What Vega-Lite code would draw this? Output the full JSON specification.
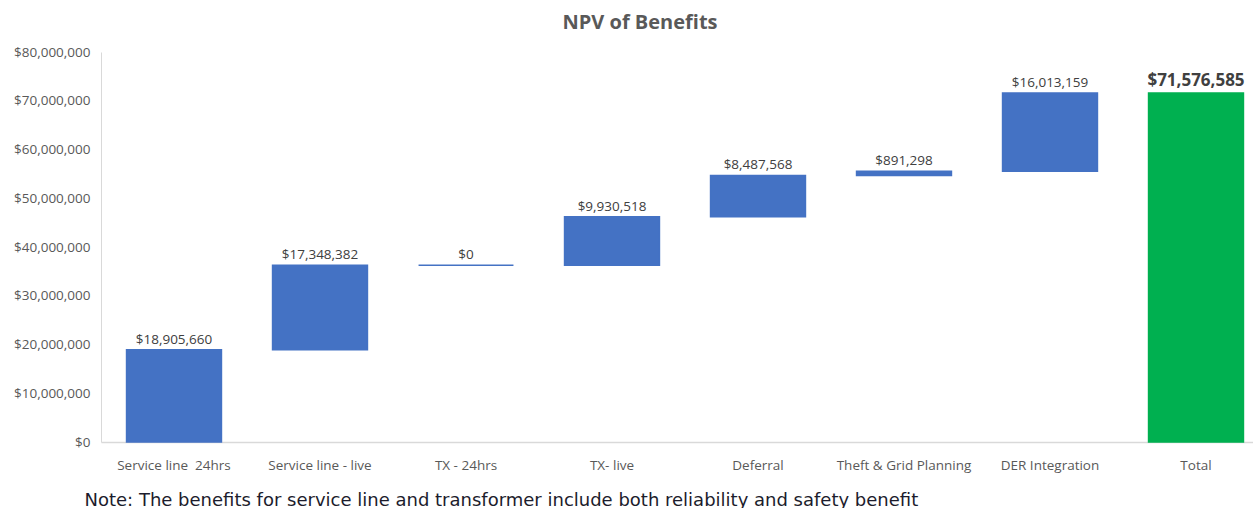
{
  "$schema": "https://vega.github.io/schema/vega-lite/v6.json",
  "width": 1168,
  "height": 390,
  "autosize": {"type": "none"},
  "padding": {"left": 101, "top": 52, "right": 0, "bottom": 66},
  "background": "white",
  "config": {"font": "Open Sans", "view": {"stroke": null}},
  "title": {
    "text": "NPV of Benefits",
    "anchor": "middle",
    "frame": "group",
    "dx": -45,
    "offset": 12,
    "fontSize": 20,
    "fontWeight": "bold",
    "color": "#595959"
  },
  "data": {
    "values": [
      {"category": "Service line \u00a024hrs", "start": 0, "end": 18905660, "value": 18905660, "kind": "step"},
      {"category": "Service line - live", "start": 18905660, "end": 36254042, "value": 17348382, "kind": "step"},
      {"category": "TX - 24hrs", "start": 36254042, "end": 36254042, "value": 0, "kind": "step"},
      {"category": "TX- live", "start": 36254042, "end": 46184560, "value": 9930518, "kind": "step"},
      {"category": "Deferral", "start": 46184560, "end": 54672128, "value": 8487568, "kind": "step"},
      {"category": "Theft & Grid Planning", "start": 54672128, "end": 55563426, "value": 891298, "kind": "step"},
      {"category": "DER Integration", "start": 55563426, "end": 71576585, "value": 16013159, "kind": "step"},
      {"category": "Total", "start": 0, "end": 71576585, "value": 71576585, "kind": "total"}
    ]
  },
  "encoding": {
    "x": {
      "field": "category",
      "type": "nominal",
      "sort": null,
      "scale": {"paddingInner": 0.35, "paddingOuter": 0.175},
      "axis": {
        "title": "Note: The benefits for service line and transformer include both reliability and safety benefit",
        "titleFont": "DejaVu Sans",
        "titleFontSize": 18,
        "titleFontWeight": "normal",
        "titleColor": "#1c1c2c",
        "titleAnchor": "start",
        "titleAlign": "left",
        "titleX": -17,
        "titleY": 58,
        "titleBaseline": "middle",
        "titleLimit": 1200,
        "labelAngle": 0,
        "labelFontSize": 13.5,
        "labelColor": "#595959",
        "labelPadding": 23,
        "labelBaseline": "middle",
        "labelLimit": 300,
        "labelOverlap": false,
        "ticks": false,
        "domainColor": "#d9d9d9",
        "domainWidth": 1.5
      }
    }
  },
  "layer": [
    {
      "mark": {"type": "bar", "strokeWidth": 1.5},
      "encoding": {
        "y": {
          "field": "start",
          "type": "quantitative",
          "scale": {"domain": [0, 80000000], "nice": false},
          "axis": {
            "title": null,
            "values": [0, 10000000, 20000000, 30000000, 40000000, 50000000, 60000000, 70000000, 80000000],
            "format": "$,.0f",
            "labelFontSize": 13.5,
            "labelColor": "#595959",
            "labelPadding": 11,
            "ticks": false,
            "grid": false,
            "domainColor": "#d9d9d9",
            "domainWidth": 1
          }
        },
        "y2": {"field": "end"},
        "color": {
          "field": "kind",
          "type": "nominal",
          "scale": {"domain": ["step", "total"], "range": ["#4472C4", "#00B050"]},
          "legend": null
        },
        "stroke": {
          "field": "kind",
          "type": "nominal",
          "scale": {"domain": ["step", "total"], "range": ["#4472C4", "#00B050"]},
          "legend": null
        }
      }
    },
    {
      "transform": [{"filter": "datum.kind === 'step'"}],
      "mark": {"type": "text", "baseline": "bottom", "dy": -3, "fontSize": 13.5, "color": "#404040"},
      "encoding": {
        "y": {"field": "end", "type": "quantitative"},
        "text": {"field": "value", "type": "quantitative", "format": "$,.0f"}
      }
    },
    {
      "transform": [{"filter": "datum.kind === 'total'"}],
      "mark": {"type": "text", "baseline": "bottom", "dy": -3, "fontSize": 17, "fontWeight": "bold", "color": "#404040"},
      "encoding": {
        "y": {"field": "end", "type": "quantitative"},
        "text": {"field": "value", "type": "quantitative", "format": "$,.0f"}
      }
    }
  ]
}
